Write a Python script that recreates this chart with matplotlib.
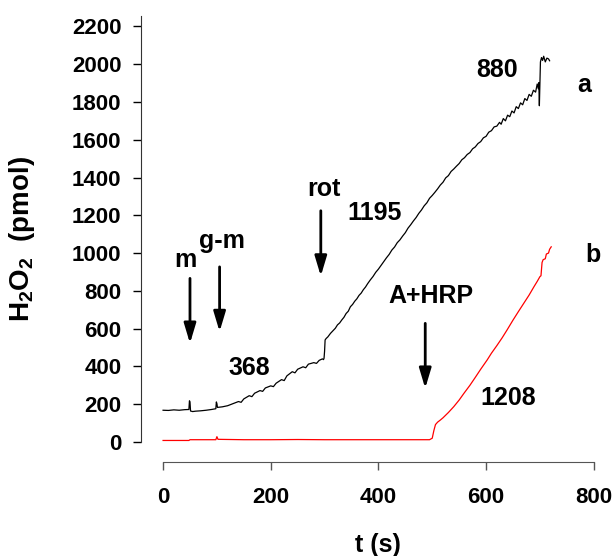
import numpy as np
from matplotlib import pyplot as plt

plt.rcParams['font.family'] = ['Liberation Sans', 'DejaVu Sans']
plt.rcParams['font.weight'] = 'bold'
plt.rcParams['mathtext.fontset'] = 'custom'
plt.rcParams['mathtext.rm'] = 'Liberation Sans:bold'
plt.rcParams['mathtext.bf'] = 'Liberation Sans:bold'
plt.rcParams['mathtext.default'] = 'bf'

# trace a (black): time (s) and H2O2 (pmol)
t_a = [0, 10, 20, 30, 40, 48, 49, 50, 51, 55, 60, 70, 80, 90, 98, 99, 100, 101,
       110, 120, 130, 140, 145, 150, 160, 165, 170, 180, 185, 190, 200, 205, 210,
       220, 225, 230, 240, 245, 250, 260, 265, 270, 280, 285, 290, 296, 298, 299,
       300, 301, 303, 306, 311, 316, 320, 324, 328, 332, 336, 340, 344, 348, 352,
       356, 360, 364, 368, 372, 376, 380, 385, 390, 395, 400, 405, 410, 415, 420,
       425, 430, 435, 440, 445, 450, 455, 460, 465, 470, 475, 480, 485, 490, 495,
       500, 505, 510, 515, 520, 525, 530, 535, 540, 545, 550, 555, 560, 565, 570,
       575, 580, 585, 590, 595, 600, 605, 610, 615, 620, 625, 628, 632, 636, 640,
       644, 648, 652, 656, 660, 664, 668, 672, 676, 680, 684, 688, 692, 695, 697,
       698, 699, 700, 701, 703, 705, 707, 710, 713, 716, 718]
v_a = [168, 167, 170, 168, 171, 172, 218, 212, 164, 161, 163, 165, 168, 172, 176, 212, 203, 183,
       186, 192, 203, 214, 210, 228, 245, 240, 258, 272, 268, 286, 297, 293, 311,
       330, 325, 350, 372, 366, 385, 398, 393, 412, 420, 416, 432, 440, 436, 443,
       480, 540, 548, 556, 575, 590, 602, 620, 630, 646, 660, 680, 692, 716, 728,
       745, 758, 776, 788, 806, 820, 838, 858, 876, 898, 915, 935, 955, 975, 993,
       1016, 1032, 1055, 1070, 1090, 1108, 1132, 1150, 1170, 1188, 1210, 1228, 1250, 1266, 1290,
       1305, 1322, 1340, 1360, 1375, 1398, 1410, 1432, 1445, 1460, 1474, 1494, 1505, 1522, 1532,
       1552, 1562, 1580, 1590, 1610, 1618, 1640, 1648, 1668, 1672, 1692, 1682, 1712, 1700, 1730,
       1722, 1752, 1742, 1775, 1765, 1795, 1785, 1818, 1808, 1840, 1830, 1862, 1852, 1895, 1870,
       1902, 1780, 1905, 2012, 2035, 2020, 2042, 2012, 2032, 2028, 2018]

# trace b (red)
t_b = [0, 20, 48, 50, 60, 98, 100, 102, 150, 200, 250, 300, 350, 400, 450, 495,
       500, 503, 506, 510, 515, 520, 530, 540, 550, 559, 570, 580, 590, 602, 610,
       620, 630, 639, 650, 660, 670, 680, 689, 695, 700, 702, 704, 706, 710, 712,
       716, 718, 721]
v_b = [8, 8, 8, 12, 12, 12, 28, 14, 12, 12, 13, 12, 12, 12, 12, 12,
       20, 60, 92, 105, 116, 128, 156, 187, 222, 258, 300, 342, 385, 434, 470,
       510, 552, 593, 645, 690, 734, 778, 822, 850, 875, 880, 950, 965, 970, 995,
       1000, 1020, 1033]

# text labels: (t, pmol, text)
labels = [(42, 926, 'm'), (110, 1025, 'g-m'), (298, 1302, 'rot'), (392, 1175, '1195'),
          (621, 1930, '880'), (497, 734, 'A+HRP'), (161, 354, '368'), (642, 196, '1208'),
          (783, 1853, 'a'), (799, 954, 'b')]
# arrows: (t, pmol from, pmol to)
arrows = [(50, 866, 522), (105, 927, 584), (293, 1224, 878), (487, 628, 284)]

x_ticks = [0, 200, 400, 600, 800]
y_ticks = list(range(0, 2201, 200))


def main():
    fig = plt.figure(figsize=(6.14, 5.56), dpi=100)
    ax = fig.add_axes([141 / 614, 94 / 556, 463.5 / 614, 446 / 556])

    ax.plot(t_a, v_a, color='black', lw=0.9)
    ax.plot(t_b, v_b, color='red', lw=0.9)

    for x, y, s in labels:
        ax.text(x, y, s, ha='center', va='baseline', fontsize=18, fontweight='bold')
    for x, y0, y1 in arrows:
        ax.annotate('', xy=(x, y1), xytext=(x, y0),
                    arrowprops=dict(arrowstyle='-|>,head_length=0.6,head_width=0.18',
                                    mutation_scale=20, lw=2, color='black',
                                    shrinkA=0, shrinkB=0))

    ax.set_xlim(-41, 820)
    ax.set_ylim(-106, 2255)
    ax.set_xticks(x_ticks)
    ax.set_yticks(y_ticks)
    ax.spines['top'].set_visible(False)
    ax.spines['right'].set_visible(False)
    ax.spines['left'].set_bounds(0, 2255)
    ax.spines['bottom'].set_bounds(0, 800)
    ax.spines['left'].set_color('#333333')
    ax.spines['bottom'].set_color('#555555')
    ax.tick_params(axis='both', direction='out', length=6, width=1, labelsize=16)
    ax.tick_params(axis='y', pad=8)
    ax.tick_params(axis='x', color='#555555', pad=12)

    ax.set_xlabel('t (s)', fontsize=18, fontweight='bold')
    ax.xaxis.set_label_coords(0.511, -0.16)
    ax.set_ylabel('H$_2$O$_2$  (pmol)', fontsize=20, fontweight='bold')
    ax.yaxis.set_label_coords(-0.225, 0.5)

    plt.savefig('out.png', dpi=100)
    return


if __name__ == "__main__":
    main()
